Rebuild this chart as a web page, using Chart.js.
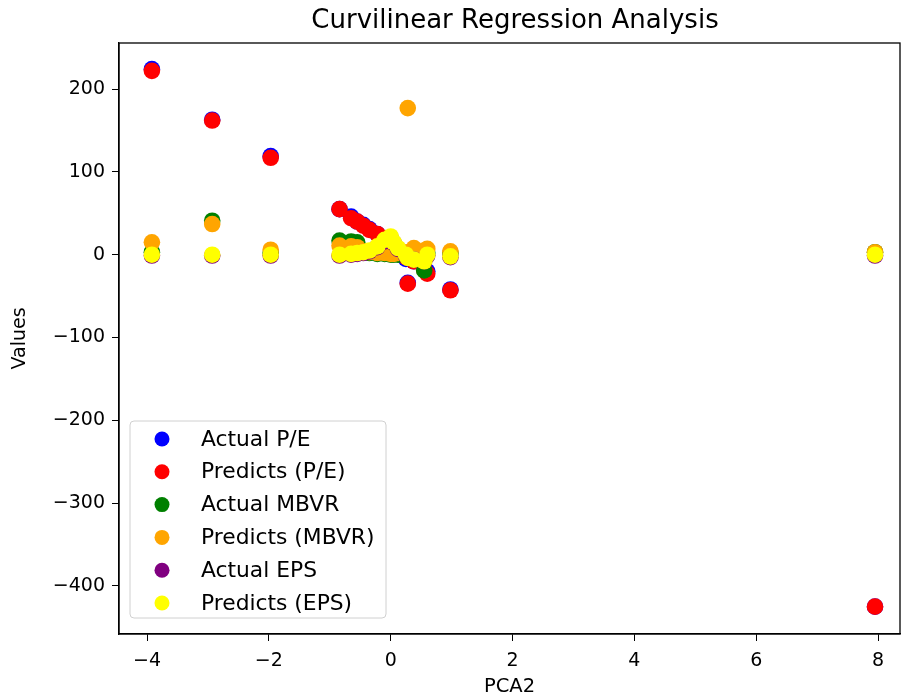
<!DOCTYPE html>
<html>
<head>
<meta charset="utf-8">
<script src="https://cdn.jsdelivr.net/npm/chart.js@4.4.1/dist/chart.umd.min.js"></script>
<style>
  html, body { margin: 0; padding: 0; background: #fff; }
  #wrap { width: 901px; height: 699px; }
</style>
</head>
<body>
<div id="wrap"><canvas id="scatter"></canvas></div>
<script>
// PCA2 values shared by every series
let pca2 = [-3.92, -2.93, -1.97, -0.84, -0.65, -0.55, -0.45, -0.35, -0.22, -0.10, 0.00, 0.05, 0.12, 0.25, 0.28, 0.38, 0.55, 0.60, 0.98, 7.95];

let actualPE     = [224, 163, 119, 55, 46, 40, 36, 31, 25, 18, 10, 5, 2, -5, -34, -8, -15, -20, -42, -425];
let predictsPE   = [222, 162, 117, 55, 44, 40, 35, 30, 25, 20, 12, 6, 2, -3, -35, -8, -18, -23, -43, -425];
let actualMBVR   = [3, 41, 2, 17, 16, 15, 3, 2, 1, 1, 0, 0, 0, 0, 0, 2, -19, 2, 2, 3];
let predictsMBVR = [15, 37, 6, 11, 10, 9, 4, 3, 2, 2, 1, 1, 2, 3, 177, 8, 5, 7, 4, 3];
let actualEPS    = [-1, -1, -1, -1, 0, 1, 2, 4, 9, 16, 20, 14, 7, -1, -4, -6, -8, -1, -3, -1];
let predictsEPS  = [0, 0, 0, 0, 1, 2, 3, 5, 10, 18, 22, 15, 8, 0, -4, -6, -8, 0, -2, 0];

let seriesNames = ['Actual P/E', 'Predicts (P/E)', 'Actual MBVR', 'Predicts (MBVR)', 'Actual EPS', 'Predicts (EPS)'];
let seriesValues = [actualPE, predictsPE, actualMBVR, predictsMBVR, actualEPS, predictsEPS];
let seriesColors = ['#0000ff', '#ff0000', '#008000', '#ffa500', '#800080', '#ffff00'];

let xTicks = [-4, -2, 0, 2, 4, 6, 8];
let yTicks = [-400, -300, -200, -100, 0, 100, 200];

const FONT = 'DejaVu Sans';

function minus(v) {
    return String(v).replace('-', '\u2212');
}

// title, top/right spines and the in-plot legend, matplotlib style
const extras = {
    id: 'extras',
    afterDraw(chart) {
        const ctx = chart.ctx, a = chart.chartArea;
        ctx.save();
        ctx.strokeStyle = '#000';
        ctx.lineWidth = 1.3;
        ctx.strokeRect(a.left, a.top, a.right - a.left, a.bottom - a.top);

        ctx.fillStyle = '#000';
        ctx.font = '26px "' + FONT + '"';
        ctx.textAlign = 'center';
        ctx.textBaseline = 'middle';
        ctx.fillText('Curvilinear Regression Analysis', 515, 21);

        // legend box
        let bx = 130, by = 421, bw = 256, bh = 197;
        ctx.beginPath();
        ctx.roundRect(bx, by, bw, bh, 4);
        ctx.fillStyle = 'rgba(255,255,255,0.8)';
        ctx.fill();
        ctx.strokeStyle = '#d0d0d0';
        ctx.lineWidth = 1;
        ctx.stroke();

        ctx.font = '21.8px "' + FONT + '"';
        ctx.textAlign = 'left';
        chart.data.datasets.forEach((ds, i) => {
            let cy = 439 + i * 32.8;
            ctx.beginPath();
            ctx.arc(162, cy, 7.5, 0, Math.PI * 2);
            ctx.fillStyle = ds.backgroundColor;
            ctx.fill();
            ctx.fillStyle = '#000';
            ctx.fillText(ds.label, 201, cy + 1);
        });
        ctx.restore();
    }
};

new Chart(document.getElementById('scatter'), {
    type: 'scatter',
    data: {
        datasets: seriesNames.map((name, i) => ({
            label: name,
            data: pca2.map((x, j) => ({ x: x, y: seriesValues[i][j] })),
            backgroundColor: seriesColors[i],
            borderWidth: 0,
            pointRadius: 8.3,
            order: seriesNames.length - i
        }))
    },
    options: {
        responsive: true,
        maintainAspectRatio: false,
        animation: false,
        layout: { autoPadding: false, padding: { top: 43, right: 1, left: 0, bottom: 0 } },
        plugins: {
            legend: { display: false },
            title: { display: false },
            tooltip: { enabled: false }
        },
        scales: {
            x: {
                type: 'linear',
                min: -4.46,
                max: 8.36,
                afterBuildTicks: s => { s.ticks = xTicks.map(v => ({ value: v })); },
                afterFit: s => { s.height = 65; },
                grid: { drawOnChartArea: false, drawTicks: true, tickLength: 7, color: '#000', tickColor: '#000' },
                border: { display: true, color: '#000', width: 1.3 },
                ticks: {
                    color: '#000',
                    font: { family: FONT, size: 19 },
                    padding: 9,
                    maxRotation: 0,
                    callback: v => minus(v)
                },
                title: {
                    display: true,
                    text: 'PCA2',
                    color: '#000',
                    font: { family: FONT, size: 19.5 },
                    padding: { top: 4, bottom: 0 }
                }
            },
            y: {
                type: 'linear',
                min: -458,
                max: 255.6,
                afterBuildTicks: s => { s.ticks = yTicks.map(v => ({ value: v })); },
                afterFit: s => { s.width = 119; },
                grid: { drawOnChartArea: false, drawTicks: true, tickLength: 7, color: '#000', tickColor: '#000' },
                border: { display: true, color: '#000', width: 1.3 },
                ticks: {
                    color: '#000',
                    font: { family: FONT, size: 19 },
                    padding: 7,
                    callback: v => minus(v)
                },
                title: {
                    display: true,
                    text: 'Values',
                    color: '#000',
                    font: { family: FONT, size: 19 },
                    padding: { top: 9, bottom: 0 }
                }
            }
        }
    },
    plugins: [extras]
});
</script>
</body>
</html>
